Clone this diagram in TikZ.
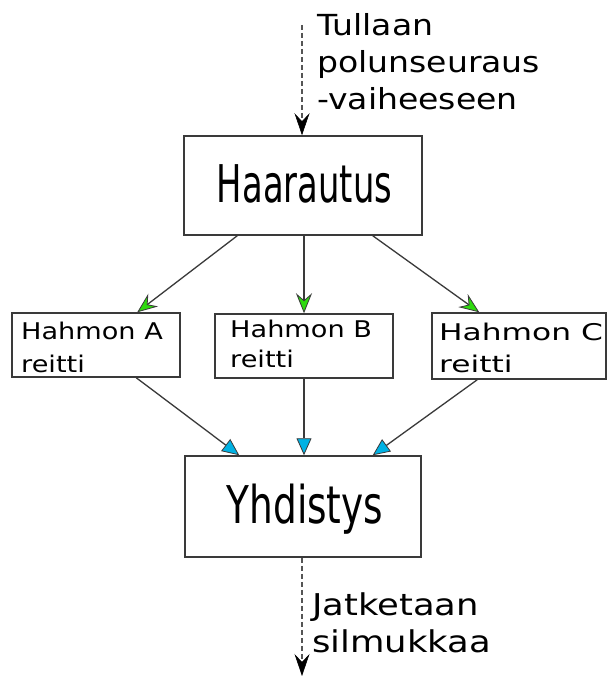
\documentclass[tikz,border=0pt]{standalone}
\usepackage{fontspec}
\setmainfont{DejaVu Sans}
\newfontfamily\topfont[FakeStretch=1.14]{DejaVu Sans}
\newfontfamily\boxfont[FakeStretch=1.18]{DejaVu Sans}
\newfontfamily\boxwidefont[FakeStretch=1.36]{DejaVu Sans}
\newfontfamily\botfont[FakeStretch=1.18]{DejaVu Sans}
\newfontfamily\haarfont[FakeStretch=0.65]{DejaVu Sans}
\newfontfamily\yhdfont[FakeStretch=0.72]{DejaVu Sans}
\usetikzlibrary{arrows.meta,calc}
\definecolor{linegray}{HTML}{3A3A3A}
\definecolor{dashgray}{HTML}{555555}
\definecolor{tipgreen}{HTML}{2EDB0E}
\definecolor{tipblue}{HTML}{00B2E4}
\tikzset{
  boxshape/.style={draw=linegray, line width=1.5pt, fill=white, inner sep=0pt},
  conn/.style={draw=linegray, line width=1.3pt},
  greentip/.style={conn, -{Stealth[length=20pt, width=16pt, inset=7pt, fill=tipgreen, color=linegray, line width=0.8pt]}},
  bluetip/.style={conn, -{Triangle[length=17pt, width=15pt, fill=tipblue, color=linegray, line width=0.8pt]}},
  dashconn/.style={draw=dashgray, line width=1.4pt, dash pattern=on 5pt off 3pt,
    -{Stealth[length=22pt, width=15pt, inset=8pt, fill=black, color=black, line width=0.6pt]}},
  toplabel/.style={anchor=base west, inner sep=0pt, font=\topfont\fontsize{29}{37}\selectfont},
  boxlabel/.style={anchor=base west, inner sep=0pt, font=\boxfont\fontsize{23}{33}\selectfont},
  boxwidelabel/.style={anchor=base west, inner sep=0pt, font=\boxwidefont\fontsize{23}{33}\selectfont},
  botlabel/.style={anchor=base west, inner sep=0pt, font=\botfont\fontsize{30}{39}\selectfont},
}
\begin{document}
\begin{tikzpicture}[x=1pt,y=-1pt]
\useasboundingbox (0,0) rectangle (608,676);
\fill[white] (0,0) rectangle (608,676);

% boxes
\node[boxshape, minimum width=238pt, minimum height=99pt] (H) at (303,185.5) {};
\node[boxshape, minimum width=168pt, minimum height=64pt] (A) at (96,345) {};
\node[boxshape, minimum width=178pt, minimum height=64pt] (B) at (304,346) {};
\node[boxshape, minimum width=174pt, minimum height=66pt] (C) at (519,346) {};
\node[boxshape, minimum width=236pt, minimum height=101pt] (Y) at (303,506.5) {};

% box texts
\node[anchor=base, inner sep=0pt, font=\haarfont\fontsize{52}{60}\selectfont] (Ht) at (304.5,203) {Haarautus};
\node[anchor=base, inner sep=0pt, font=\yhdfont\fontsize{52}{60}\selectfont] (Yt) at (305,523) {Yhdistys};
\node[boxlabel] (A1) at (21,339) {Hahmon A};
\node[boxlabel] (A2) at (21,372.5) {reitti};
\node[boxlabel] (B1) at (230,337) {Hahmon B};
\node[boxlabel] (B2) at (230,367) {reitti};
\node[boxwidelabel] (C1) at (439,340) {Hahmon C};
\node[boxwidelabel] (C2) at (439,372) {reitti};

% top and bottom labels
\node[toplabel] (t1) at (317,36) {Tullaan};
\node[toplabel] (t2) at (317,73) {polunseuraus};
\node[toplabel] (t3) at (317,110) {-vaiheeseen};
\node[botlabel] (b1) at (312,615) {Jatketaan};
\node[botlabel] (b2) at (312,652) {silmukkaa};

% dashed in/out
\coordinate (in) at (302,25);
\coordinate (out) at (302,676);
\draw[dashconn] (in) -- (in |- H.north);
\draw[dashconn] (Y.south -| out) -- (out);

% branch arrows
\draw[greentip] ([xshift=54pt]H.south west) -- ([xshift=126pt]A.north west);
\draw[greentip] (H.south -| B.north) -- (B.north);
\draw[greentip] ([xshift=-50pt]H.south east) -- ([xshift=48pt]C.north west);

% merge arrows
\draw[bluetip] ([xshift=125pt]A.south west) -- ([xshift=55pt]Y.north west);
\draw[bluetip] (B.south) -- (B.south |- Y.north);
\draw[bluetip] ([xshift=46pt]C.south west) -- ([xshift=-49pt]Y.north east);
\end{tikzpicture}
\end{document}
